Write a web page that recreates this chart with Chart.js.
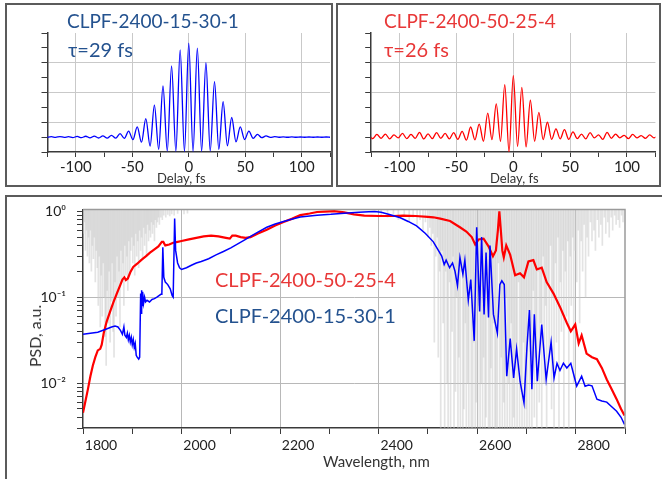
<!DOCTYPE html>
<html><head><meta charset="utf-8">
<script src="https://cdn.jsdelivr.net/npm/chart.js@4.4.0/dist/chart.umd.min.js"></script>
<style>
html,body{margin:0;padding:0;background:#fff;width:662px;height:479px;overflow:hidden;position:relative;font-family:Lato,sans-serif}
.box{position:absolute;box-sizing:border-box;border:2px solid #5b5b5b}
canvas{position:absolute}
.t{position:absolute;white-space:nowrap;line-height:1;font-family:Lato,sans-serif;z-index:5}
</style></head><body>
<div class="box" style="left:5px;top:3px;width:328px;height:184px"></div>
<div class="box" style="left:336px;top:3px;width:325px;height:184px"></div>
<div class="box" style="left:5px;top:195px;width:700px;height:320px"></div>
<canvas id="cA" width="332" height="190" style="left:0;top:0"></canvas>
<canvas id="cB" width="330" height="190" style="left:332px;top:0"></canvas>
<canvas id="cC" width="662" height="289" style="left:0;top:190px"></canvas>

<div class="t" style="left:67px;top:11px;font-size:19px;color:#24528f">CLPF-2400-15-30-1</div>
<div class="t" style="left:68px;top:39px;font-size:20px;color:#24528f">τ=29 fs</div>
<div class="t" style="left:384px;top:11px;font-size:19px;color:#e83838">CLPF-2400-50-25-4</div>
<div class="t" style="left:384px;top:39px;font-size:20px;color:#e83838">τ=26 fs</div>
<div class="t" style="left:157px;top:172px;font-size:13px;color:#333">Delay, fs</div>
<div class="t" style="left:490px;top:172px;font-size:13px;color:#333">Delay, fs</div>
<div class="t" style="left:215px;top:269px;font-size:20px;color:#e83838">CLPF-2400-50-25-4</div>
<div class="t" style="left:215px;top:305px;font-size:20px;color:#24528f">CLPF-2400-15-30-1</div>
<div class="t" style="left:323px;top:454px;font-size:15px;color:#333">Wavelength, nm</div>
<div class="t" style="left:35px;top:336px;font-size:16px;color:#333;transform:translate(-50%,-50%) rotate(-90deg)">PSD, a.u.</div>

<script>
// ---------- autocorrelation traces (fringe maxima / minima) ----------
const delayBlue = [-125.4,-121.6,-117.8,-114,-110.2,-106.4,-102.6,-98.8,-95,-91.2,-87.4,-83.6,-79.8,-76,-72.2,-68.4,-64.6,-60.8,-57,-53.2,-49.4,-45.6,-41.8,-38,-34.2,-30.4,-26.6,-22.8,-19,-15.2,-11.4,-7.6,-3.8,0,3.8,7.6,11.4,15.2,19,22.8,26.6,30.4,34.2,38,41.8,45.6,49.4,53.2,57,60.8,64.6,68.4,72.2,76,79.8,83.6,87.4,91.2,95,98.8,102.6,106.4,110.2,114,117.8,121.6,125.4];
const acBlue = [0.99,1.03,0.98,1.04,0.98,1.03,0.97,1.05,0.96,1.06,0.95,1.07,0.94,1.08,0.93,1.12,0.93,1.24,0.91,1.40,0.83,1.69,0.66,2.25,0.40,3.15,0.18,4.44,0.07,5.79,0.05,6.87,0.04,
  7.32,
  0.04,6.98,0.05,6.0,0.07,4.73,0.18,3.38,0.42,2.32,0.68,1.69,0.84,1.40,0.91,1.19,0.96,1.08,0.98,1.03,0.99,1.02,0.99,1.02,0.99,1.01,0.99,1.01,0.99,1.01,0.99,1.01,0.99];
const delayRed = [-127.5,-123.75,-120,-116.25,-112.5,-108.75,-105,-101.25,-97.5,-93.75,-90,-86.25,-82.5,-78.75,-75,-71.25,-67.5,-63.75,-60,-56.25,-52.5,-48.75,-45,-41.25,-37.5,-33.75,-30,-26.25,-22.5,-18.75,-15,-11.25,-7.5,-3.75,0,3.75,7.5,11.25,15,18.75,22.5,26.25,30,33.75,37.5,41.25,45,48.75,52.5,56.25,60,63.75,67.5,71.25,75,78.75,82.5,86.25,90,93.75,97.5,101.25,105,108.75,112.5,116.25,120,123.75,127.5];
const acRed = [1.2,0.9,1.18,0.92,1.2,0.88,1.15,0.95,1.25,0.9,1.18,0.92,1.32,0.88,1.22,0.9,1.3,0.92,1.25,0.88,1.3,0.85,1.39,0.8,1.68,0.82,1.88,0.72,2.62,0.83,3.23,0.72,4.53,0.0,
  5.13,
  0.38,4.35,0.34,3.48,0.72,2.67,0.83,2.0,0.85,1.55,0.88,1.5,0.85,1.35,0.9,1.2,0.88,1.3,0.95,1.15,0.85,1.32,0.92,1.2,0.95,1.12,0.9,1.18,0.95,1.1,0.92,1.15,0.95,1.1];
const delayTicks = [-125,-100,-75,-50,-25,0,25,50,75,100,125];
const delayLabels = [-100,-50,0,50,100];
const acTicks = [0,1,2,3,4,5,6,7,8];
const acGrid = [2,4,6];

// ---------- spectra ----------
const wlBlue = [1800,1815,1830,1845,1858,1865,1871,1876,1880,1883,1885,1888,1890,1892,1894,1896,1898,1900,1902,1904,1906,1908,1910,1913,1915,1917,1918,1919,1920,1921,1923,1925,1927,1930,1935,1940,1945,1950,1955,1958,1960,1962,1964,1967,1972,1977,1981,1983,1986,1988,1992,1996,2000,2010,2020,2030,2040,2055,2070,2085,2100,2115,2130,2140,2155,2173,2190,2207,2225,2241,2260,2275,2303,2330,2360,2380,2392,2405,2420,2444,2460,2477,2495,2511,2520,2528,2533,2537,2544,2550,2555,2560,2565,2571,2575,2582,2587,2594,2599,2605,2609,2614,2618,2623,2626,2633,2641,2646,2650,2655,2660,2667,2674,2680,2687,2695,2701,2706,2711,2716,2722,2731,2740,2750,2756,2762,2768,2775,2782,2790,2796,2802,2812,2819,2826,2833,2843,2853,2863,2873,2883,2892,2899];
const psdBlue = [0.037,0.038,0.039,0.042,0.045,0.046,0.045,0.041,0.037,0.045,0.036,0.034,0.038,0.032,0.036,0.030,0.034,0.028,0.032,0.026,0.029,0.021,0.020,0.019,0.020,0.110,0.065,0.120,0.080,0.115,0.085,0.100,0.088,0.092,0.088,0.094,0.096,0.100,0.105,0.108,0.108,0.38,0.17,0.15,0.14,0.125,0.104,0.100,0.82,0.35,0.25,0.22,0.21,0.22,0.235,0.25,0.26,0.28,0.31,0.34,0.375,0.42,0.47,0.51,0.57,0.65,0.71,0.76,0.81,0.855,0.88,0.90,0.92,0.95,0.97,0.985,0.99,0.97,0.92,0.84,0.76,0.675,0.55,0.44,0.36,0.30,0.24,0.27,0.22,0.25,0.20,0.136,0.29,0.185,0.27,0.092,0.16,0.031,0.65,0.068,0.50,0.063,0.33,0.058,0.40,0.063,0.038,0.14,0.155,0.14,0.012,0.033,0.0115,0.025,0.0105,0.0059,0.026,0.071,0.0085,0.063,0.0105,0.048,0.011,0.030,0.0115,0.017,0.014,0.017,0.015,0.017,0.0125,0.0092,0.012,0.0092,0.0095,0.0093,0.0065,0.0062,0.0060,0.0053,0.0047,0.0040,0.0033];
const wlRed = [1800,1805,1810,1815,1820,1825,1830,1835,1838,1842,1848,1855,1862,1870,1876,1880,1884,1887,1891,1896,1902,1910,1918,1928,1936,1945,1953,1960,1963,1967,1975,1983,1992,2000,2015,2030,2045,2060,2075,2090,2098,2103,2110,2120,2130,2140,2155,2173,2190,2207,2225,2241,2260,2275,2290,2310,2330,2350,2371,2400,2430,2450,2475,2500,2511,2525,2545,2565,2578,2589,2596,2603,2613,2623,2632,2638,2642,2645,2648,2651,2654,2659,2667,2677,2687,2695,2704,2714,2721,2731,2741,2755,2768,2782,2790,2799,2806,2812,2822,2833,2843,2853,2863,2873,2883,2892,2899];
const psdRed = [0.0045,0.0062,0.0085,0.012,0.016,0.020,0.024,0.025,0.028,0.038,0.052,0.068,0.088,0.115,0.14,0.16,0.17,0.158,0.165,0.195,0.225,0.245,0.27,0.30,0.33,0.36,0.39,0.44,0.44,0.40,0.41,0.43,0.44,0.45,0.47,0.49,0.51,0.52,0.51,0.49,0.48,0.52,0.52,0.50,0.49,0.50,0.55,0.61,0.68,0.75,0.82,0.90,0.94,0.98,0.99,1.0,0.97,0.92,0.89,0.88,0.88,0.89,0.88,0.86,0.85,0.82,0.77,0.65,0.58,0.50,0.41,0.47,0.48,0.39,0.30,0.35,0.60,1.0,0.60,0.35,0.29,0.40,0.31,0.18,0.19,0.17,0.26,0.27,0.21,0.22,0.15,0.11,0.077,0.050,0.040,0.048,0.029,0.036,0.022,0.020,0.019,0.015,0.011,0.0085,0.0065,0.005,0.0042];
// atmospheric absorption lines: wavelength and lowest transmission
const absWl = [1801,1803,1805,1807,1809,1811,1813,1815,1817,1819,1821,1823,1825,1827,1829,1831,1833,1835,1837,1839,1841,1843,1845,1847,1849,1851,1853,1855,1857,1859,1861,1863,1865,1867,1869,1871,1873,1875,1877,1879,1881,1883,1885,1887,1889,1891,1893,1895,1897,1899,1901,1903,1905,1907,1909,1911,1913,1915,1917,1919,1921,1923,1925,1927,1929,1931,1933,1935,1937,1939,1941,1943,1945,1947,1949,1951,1953,1955,1958,1961,1964,1968,1972,1976,1980,1985,1992,2005,2012,
  2405,2418,2430,2440,2452,2462,2470,2478,2484,2490,2495,2500,2504,2507,2510,2513,2516,2519,2521,2524,2526,2529,2531,2534,2536,2539,2541,2544,2546,2549,2551,2553,2556,2558,2561,2563,2566,2568,2571,2573,2576,2578,2581,2583,2586,2588,2591,2593,2596,2598,2601,2603,2606,2608,2611,2613,2616,2618,2621,2623,2626,2628,2631,2633,2636,2638,2641,2643,2646,2649,2651,2654,2656,2659,2661,2664,2666,2669,2671,2674,2676,2679,2681,2684,2686,2689,2691,2694,2696,2699,2701,2704,2706,2709,2711,2714,2716,2719,2721,2724,2726,2729,2731,2734,2736,2739,2741,2744,2746,2749,2751,2754,2756,2759,2761,2764,2766,2769,2771,2774,2776,2779,2781,2784,2786,2789,2791,2794,2796,2799,2802,2805,2808,2811,2814,2817,2820,2823,2826,2830,2833,2837,2840,2844,2847,2851,2854,2858,2861,2865,2868,2872,2875,2879,2882,2886,2889,2893,2896];
const absMin = [0.55,0.75,0.35,0.6,0.3,0.5,0.25,0.6,0.2,0.4,0.28,0.5,0.15,0.35,0.22,0.08,0.3,0.045,0.18,0.06,0.25,0.1,0.035,0.016,0.12,0.05,0.2,0.03,0.09,0.25,0.04,0.02,0.15,0.06,0.3,0.1,0.2,0.045,0.35,0.15,0.25,0.08,0.4,0.18,0.3,0.12,0.45,0.2,0.35,0.5,0.25,0.4,0.18,0.55,0.3,0.45,0.22,0.6,0.35,0.5,0.28,0.65,0.4,0.55,0.3,0.7,0.45,0.6,0.5,0.75,0.55,0.7,0.45,0.8,0.65,0.75,0.85,0.7,0.85,0.8,0.9,0.85,0.92,0.88,0.93,0.9,0.94,0.93,0.95,
  0.9,0.85,0.9,0.8,0.88,0.75,0.85,0.7,0.8,0.6,0.75,0.5,0.65,0.4,0.55,0.03,0.3,0.5,0.02,0.2,0.001,0.35,0.05,0.001,0.2,0.01,0.001,0.15,0.001,0.04,0.3,0.001,0.008,0.1,0.001,0.02,0.001,0.2,0.001,0.005,0.05,0.001,0.01,0.001,0.15,0.001,0.002,0.03,0.001,0.006,0.001,0.08,0.001,0.01,0.001,0.02,0.001,0.004,0.1,0.001,0.001,0.015,0.001,0.05,0.001,0.003,0.001,0.25,0.001,0.02,0.001,0.006,0.001,0.1,0.001,0.01,0.001,0.05,0.001,0.004,0.001,0.02,0.001,0.15,0.001,0.008,0.001,0.03,0.001,0.005,0.001,0.07,0.002,0.03,0.001,0.12,0.004,0.02,0.001,0.2,0.006,0.05,0.001,0.3,0.01,0.08,0.001,0.15,0.02,0.4,0.005,0.1,0.001,0.25,0.03,0.5,0.002,0.15,0.04,0.35,0.001,0.2,0.06,0.45,0.003,0.3,0.08,0.5,0.01,0.35,0.15,0.6,0.05,0.45,0.2,0.7,0.1,0.5,0.3,0.75,0.45,0.6,0.35,0.8,0.5,0.7,0.4,0.85,0.55,0.75,0.5,0.85,0.6,0.9,0.7,0.8,0.65,0.9,0.75];
const ABS_TOP = 1.05;
const wlTicks = [1800,1900,2000,2100,2200,2300,2400,2500,2600,2700,2800,2900];
const wlLabels = [1800,2000,2200,2400,2600,2800];
const wlGrid = [2000,2200,2400,2600,2800];
const psdTicks = [0.003,0.004,0.005,0.006,0.007,0.008,0.009,0.01,0.02,0.03,0.04,0.05,0.06,0.07,0.08,0.09,0.1,0.2,0.3,0.4,0.5,0.6,0.7,0.8,0.9,1];
const psdLabels = {'1':'10⁰','0.1':'10⁻¹','0.01':'10⁻²'};
const psdGrid = [0.1,0.01];

const GRID = '#c9c9c9';
const AXIS = '#3a3a3a';
const NONE = 'rgba(0,0,0,0)';
const pts = (xs, ys) => xs.map((x, i) => ({x, y: ys[i]}));

function acChart(id, delays, vals, color, padRight, yWidth) {
  return new Chart(document.getElementById(id), {
    type: 'line',
    data: {datasets: [{data: pts(delays, vals), borderColor: color, borderWidth: 1.3, pointRadius: 0,
      cubicInterpolationMode: 'monotone', clip: 0}]},
    options: {
      responsive: false, animation: false, events: [],
      layout: {padding: {left: 0, top: 33, right: padRight, bottom: 0}},
      plugins: {legend: {display: false}, tooltip: {enabled: false}},
      scales: {
        x: {type: 'linear', min: -125, max: 125,
          afterBuildTicks: ax => { ax.ticks = delayTicks.map(v => ({value: v})); },
          afterFit: ax => { ax.height = 38; },
          grid: {color: c => (c.tick && delayLabels.includes(c.tick.value)) ? GRID : NONE, tickColor: AXIS, tickLength: 5},
          border: {color: AXIS, width: 1.5},
          ticks: {autoSkip: false, maxRotation: 0, padding: 1, color: '#222', font: {family: 'Lato', size: 15},
            callback: v => delayLabels.includes(v) ? String(v) : ''}
        },
        y: {type: 'linear', min: 0, max: 8,
          afterBuildTicks: ax => { ax.ticks = acTicks.map(v => ({value: v})); },
          afterFit: ax => { ax.width = yWidth; },
          grid: {color: c => (c.tick && acGrid.includes(c.tick.value)) ? GRID : NONE, tickColor: AXIS, tickLength: 6},
          border: {color: AXIS, width: 1.5},
          ticks: {autoSkip: false, callback: () => ''}
        }
      }
    }
  });
}
acChart('cA', delayBlue, acBlue, '#0000ff', 2, 47.5);
acChart('cB', delayRed, acRed, '#ff0000', 6.6, 39.2);

const framePlugin = {id: 'frame', afterDatasetsDraw(chart) {
  const {ctx, chartArea: a} = chart;
  ctx.save(); ctx.strokeStyle = '#9a9a9a'; ctx.lineWidth = 1.5;
  ctx.beginPath(); ctx.moveTo(a.left, a.top); ctx.lineTo(a.right, a.top); ctx.lineTo(a.right, a.bottom); ctx.stroke();
  ctx.restore();
}};

new Chart(document.getElementById('cC'), {
  type: 'line',
  data: {datasets: [
    {data: pts(wlBlue, psdBlue), borderColor: '#0000ff', borderWidth: 1.5, pointRadius: 0, clip: 0, order: 0},
    {data: pts(wlRed, psdRed), borderColor: '#ff0000', borderWidth: 2.2, pointRadius: 0, clip: 0, order: 1},
    {type: 'bar', data: absWl.map((w, i) => ({x: w, y: [absMin[i], ABS_TOP]})), backgroundColor: 'rgba(200,200,200,0.5)',
      barThickness: 1, borderWidth: 0, clip: 0, order: 2}
  ]},
  options: {
    responsive: false, animation: false, events: [],
    layout: {padding: {left: 0, top: 15, right: 37, bottom: 0}},
    plugins: {legend: {display: false}, tooltip: {enabled: false}},
    scales: {
      x: {type: 'linear', min: 1800, max: 2900, offset: false,
        afterBuildTicks: ax => { ax.ticks = wlTicks.map(v => ({value: v})); },
        afterFit: ax => { ax.height = 51; },
        grid: {offset: false, color: c => (c.tick && wlGrid.includes(c.tick.value)) ? '#b8b8b8' : NONE, tickColor: AXIS, tickLength: 6},
        border: {color: AXIS, width: 1.5},
        ticks: {autoSkip: false, maxRotation: 0, padding: 3, labelOffset: 18, color: '#222', font: {family: 'Lato', size: 14},
          callback: v => wlLabels.includes(v) ? String(v) : ''}
      },
      y: {type: 'logarithmic', min: 0.003, max: 1.05,
        afterBuildTicks: ax => { ax.ticks = psdTicks.map(v => ({value: v})); },
        afterFit: ax => { ax.width = 83; },
        grid: {color: c => (c.tick && psdGrid.includes(c.tick.value)) ? '#b8b8b8' : NONE, tickColor: AXIS, tickLength: 6},
        border: {color: AXIS, width: 1.5},
        ticks: {autoSkip: false, padding: 11, color: '#222', font: {family: 'Lato', size: 14},
          callback: v => psdLabels[String(v)] || ''}
      }
    }
  },
  plugins: [framePlugin]
});
</script>
</body></html>
